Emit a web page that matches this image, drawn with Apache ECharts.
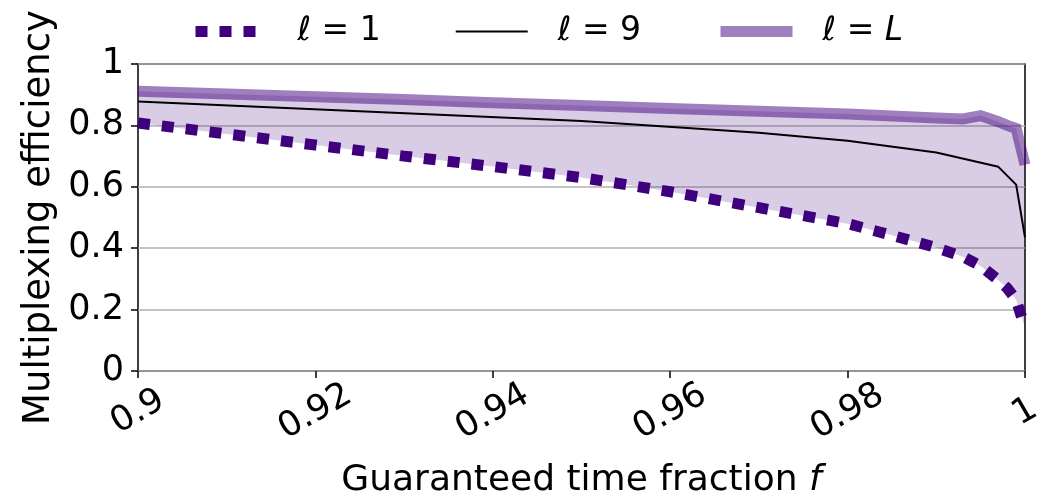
<!DOCTYPE html>
<html>
<head>
<meta charset="utf-8">
<script src="https://cdn.jsdelivr.net/npm/echarts@6/dist/echarts.min.js"></script>
<style>
html, body { margin: 0; padding: 0; background: #fff; }
#chart { width: 1053px; height: 495px; }
</style>
</head>
<body>
<div id="chart"></div>
<script>
// guaranteed time fraction f, shared by l=1 and l=L
var fBand = [0.9, 0.91, 0.92, 0.93, 0.94, 0.95, 0.96, 0.97, 0.98, 0.985, 0.99, 0.993, 0.995, 0.997, 0.998, 0.999, 1.0];
var effOne = [0.808, 0.772, 0.736, 0.700, 0.666, 0.630, 0.584, 0.532, 0.480, 0.442, 0.402, 0.372, 0.342, 0.296, 0.270, 0.232, 0.140];
var effL   = [0.911, 0.902, 0.893, 0.884, 0.874, 0.865, 0.855, 0.846, 0.837, 0.831, 0.824, 0.821, 0.832, 0.812, 0.800, 0.790, 0.672];
// l=9 has its own sample points
var fNine = [0.9, 0.95, 0.97, 0.98, 0.99, 0.997, 0.999, 1.0];
var effNine = [0.878, 0.814, 0.776, 0.750, 0.712, 0.665, 0.607, 0.435];

var legendNames = ['l1', 'l9', 'lL'];
var legendLabels = {
    l1: '{i|\u2113} = 1',
    l9: '{i|\u2113} = 9',
    lL: '{i|\u2113} = {i|L}'
};

var purple = '#3f007d';
var font = 'DejaVu Sans';
var tickSize = 35;

function pairs(xs, ys) {
    var out = [];
    for (var i = 0; i < xs.length; i++) {
        out.push([xs[i], ys[i]]);
    }
    return out;
}

var chart = echarts.init(document.getElementById('chart'));

chart.setOption({
    animation: false,
    grid: {
        left: 138, right: 28, top: 64, bottom: 124,
        outerBoundsMode: 'none',
        containLabel: false,
        show: true, borderColor: '#000', borderWidth: 1.5, backgroundColor: 'transparent'
    },
    legend: {
        data: legendNames,
        top: 10,
        left: 185,
        itemWidth: 72,
        itemHeight: 12,
        itemGap: 74,
        lineStyle: { width: 'inherit' },
        itemStyle: { opacity: 0 },
        formatter: function (name) { return legendLabels[name]; },
        textStyle: {
            fontFamily: font, fontSize: 33, color: '#000', padding: [0, 0, 0, 25],
            rich: { i: { fontFamily: font, fontSize: 33, fontStyle: 'italic', color: '#000' } }
        }
    },
    xAxis: {
        type: 'value',
        min: 0.9,
        max: 1,
        interval: 0.02,
        name: 'Guaranteed time fraction {i|f}',
        nameLocation: 'middle',
        nameGap: 92,
        nameTextStyle: {
            fontFamily: font, fontSize: 36, color: '#000', verticalAlign: 'top',
            rich: { i: { fontFamily: font, fontSize: 36, fontStyle: 'italic', color: '#000' } }
        },
        axisLine: { show: false },
        axisTick: { show: true, inside: false, length: 7, lineStyle: { color: '#000', width: 1.5 } },
        splitLine: { show: false },
        axisLabel: {
            rotate: 30,
            align: 'center',
            verticalAlign: 'middle',
            margin: 41,
            fontFamily: font,
            fontSize: tickSize,
            color: '#000',
            formatter: function (v) { return String(+v.toFixed(2)); }
        }
    },
    yAxis: {
        type: 'value',
        min: 0,
        max: 1,
        interval: 0.2,
        name: 'Multiplexing efficiency',
        nameLocation: 'middle',
        nameGap: 79,
        nameTextStyle: { fontFamily: font, fontSize: 37, color: '#000', verticalAlign: 'bottom' },
        axisLine: { show: false },
        axisTick: { show: true, inside: false, length: 7, lineStyle: { color: '#000', width: 1.5 } },
        splitLine: { show: true, lineStyle: { color: '#b0b0b0', width: 1.6 } },
        axisLabel: {
            margin: 14,
            fontFamily: font,
            fontSize: tickSize,
            color: '#000',
            formatter: function (v) { return String(+v.toFixed(1)); }
        }
    },
    series: [
        {
            // shaded band between l=1 and l=L
            name: 'band',
            type: 'custom',
            silent: true,
            data: [[0.95, 0.5]],
            renderItem: function (params, api) {
                var pts = [];
                var i;
                for (i = 0; i < fBand.length; i++) pts.push(api.coord([fBand[i], effL[i]]));
                for (i = fBand.length - 1; i >= 0; i--) pts.push(api.coord([fBand[i], effOne[i]]));
                return {
                    type: 'polygon',
                    shape: { points: pts },
                    style: { fill: 'rgba(63,0,125,0.2)' }
                };
            }
        },
        {
            name: 'lL',
            type: 'line',
            symbol: 'none',
            data: pairs(fBand, effL),
            lineStyle: { color: purple, width: 11, opacity: 0.5, join: 'miter', cap: 'butt' },
            itemStyle: { color: purple, opacity: 0.5 }
        },
        {
            name: 'l9',
            type: 'line',
            symbol: 'none',
            data: pairs(fNine, effNine),
            lineStyle: { color: '#000', width: 2 },
            itemStyle: { color: '#000' }
        },
        {
            name: 'l1',
            type: 'line',
            symbol: 'none',
            data: pairs(fBand, effOne),
            lineStyle: { color: purple, width: 11, type: [12, 12], cap: 'butt' },
            itemStyle: { color: purple }
        }
    ]
});
</script>
</body>
</html>
